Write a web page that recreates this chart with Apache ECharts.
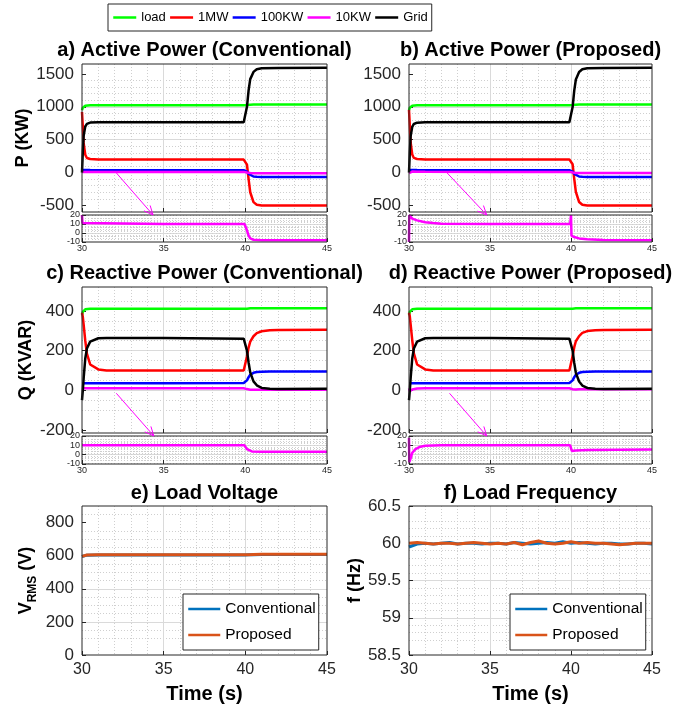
<!DOCTYPE html>
<html><head><meta charset="utf-8">
<script src="https://cdn.jsdelivr.net/npm/echarts@6/dist/echarts.min.js"></script>
<style>html,body{margin:0;padding:0;background:#fff}#c{width:682px;height:718px}</style>
</head><body><div id="c"></div>
<script>
// ---------------- DATA ----------------
const seriesNames = ['load', '1MW', '100KW', '10KW', 'Grid'];
const tP = [30, 30.05, 30.1, 30.2, 30.3, 30.5, 31, 35, 39.9, 40, 40.1, 40.2, 40.3, 40.5, 40.7, 41, 42, 45];
// a) Active power, conventional
const pConvLoad  = [950, 985, 1005, 1015, 1020, 1022, 1022, 1022, 1022, 1022, 1025, 1030, 1032, 1033, 1033, 1033, 1033, 1033];
const pConv1MW   = [920, 700, 450, 270, 220, 205, 200, 198, 197, 195, 120, -100, -300, -450, -490, -500, -500, -500];
const pConv100KW = [40, 40, 40, 40, 40, 38, 36, 35, 35, 33, 15, -20, -45, -60, -65, -67, -67, -67];
const pConv10KW  = [10, 10, 10, 10, 10, 10, 10, 10, 10, 8, 0, -6, -8, -9, -10, -10, -10, -10];
const pConvGrid  = [0, 320, 560, 700, 740, 760, 765, 765, 765, 770, 1000, 1250, 1420, 1530, 1570, 1585, 1590, 1592];
// b) Active power, proposed
const pPropLoad  = [950, 985, 1005, 1015, 1020, 1022, 1022, 1022, 1022, 1022, 1025, 1030, 1032, 1033, 1033, 1033, 1033, 1033];
const pProp1MW   = [950, 720, 460, 275, 222, 206, 200, 198, 197, 195, 125, -95, -295, -448, -490, -500, -500, -500];
const pProp100KW = [40, 40, 40, 40, 40, 38, 36, 35, 35, 33, 15, -20, -45, -60, -65, -67, -67, -67];
const pProp10KW  = [-10, 15, 15, 14, 13, 12, 11, 10, 10, 12, 0, -5, -6, -7, -8, -8, -8, -8];
const pPropGrid  = [0, 310, 550, 695, 738, 758, 765, 765, 765, 770, 995, 1245, 1415, 1528, 1570, 1585, 1590, 1592];
// insets of a) / b) (10KW zoom)
const tInA = [30, 30.03, 30.1, 35, 39.95, 40, 40.1, 40.2, 40.3, 40.5, 41, 45];
const inA10KW = [20, 11, 10, 10, 10, 9, 3, -3, -6, -7.5, -8, -8];
const tInB = [30, 30.02, 30.05, 30.2, 30.5, 31, 31.5, 32, 35, 39.95, 40, 40.03, 40.2, 40.5, 41, 42, 45];
const inB10KW = [-10, 20, 18, 16, 14, 12, 11, 10.2, 10, 10, 20, -3, -4.5, -6, -7, -7.8, -8];

const tQ = [30, 30.05, 30.1, 30.2, 30.3, 30.5, 31, 31.5, 35, 39.9, 40, 40.1, 40.2, 40.3, 40.5, 40.7, 41, 41.5, 42, 45];
// c) Reactive power, conventional
const qConvLoad  = [380, 395, 403, 408, 410, 410, 410, 410, 410, 410, 410, 411, 412, 413, 413, 413, 413, 413, 413, 413];
const qConv1MW   = [390, 370, 330, 250, 185, 130, 105, 100, 100, 100, 105, 170, 215, 245, 272, 288, 297, 302, 304, 305];
const qConv100KW = [35, 35, 35, 35, 35, 35, 35, 35, 36, 37, 38, 50, 66, 78, 88, 92, 93, 94, 94, 94];
const qConv10KW  = [10, 10, 10, 10, 10, 10, 10, 10, 10, 10, 9, 6, 4, 3, 3, 3, 3, 3, 3, 3];
const qConvGrid  = [-50, 0, 60, 160, 210, 245, 262, 263, 263, 260, 258, 200, 140, 90, 45, 25, 12, 8, 7, 8];
// d) Reactive power, proposed
const qPropLoad  = [380, 395, 403, 408, 410, 410, 410, 410, 410, 410, 410, 411, 412, 413, 413, 413, 413, 413, 413, 413];
const qProp1MW   = [390, 372, 332, 252, 186, 130, 105, 100, 100, 100, 105, 172, 217, 247, 273, 289, 298, 302, 304, 305];
const qProp100KW = [35, 35, 35, 35, 35, 35, 35, 35, 36, 37, 38, 50, 66, 78, 88, 92, 93, 94, 94, 94];
const qProp10KW  = [10, -5, 0, 4, 7, 9, 10, 10, 10, 10, 9, 5, 4, 4, 5, 5, 5, 5, 5, 5];
const qPropGrid  = [-50, 0, 60, 160, 210, 245, 262, 263, 263, 260, 258, 200, 138, 88, 44, 24, 12, 8, 7, 8];
// insets of c) / d)
const tInC = [30, 39.95, 40, 40.1, 40.2, 40.4, 41, 45];
const inC10KW = [10, 10, 9, 6, 4, 3.5, 3, 3];
const tInD = [30, 30.02, 30.1, 30.2, 30.4, 30.7, 31, 32, 39.95, 40, 40.05, 40.3, 41, 45];
const inD10KW = [18, -8, -4, 2, 6, 8.5, 9.5, 10, 10, 9, 4, 4.5, 5, 5.5];

// e) Load voltage
const tV = [30, 30.1, 30.3, 31, 35, 40, 40.2, 40.5, 41, 45];
const vConv = [595, 600, 603, 604, 604, 604, 605, 606, 607, 607];
const vProp = [596, 601, 604, 605, 605, 605, 606, 607, 608, 608];
// f) Load frequency
const tF = [30, 30.5, 31, 31.5, 32, 32.5, 33, 33.5, 34, 34.5, 35, 35.5, 36, 36.5, 37, 37.5, 38, 38.5, 39, 39.5, 40, 40.5, 41, 41.5, 42, 42.5, 43, 43.5, 44, 44.5, 45];
const fConv = [59.95, 59.99, 60.0, 59.99, 60.0, 60.01, 59.99, 60.0, 60.0, 59.99, 60.0, 60.0, 59.99, 60.01, 60.0, 59.99, 60.0, 60.01, 60.0, 60.02, 60.0, 60.01, 60.0, 59.99, 60.0, 60.0, 59.99, 59.99, 60.0, 60.0, 59.99];
const fProp = [60.0, 60.01, 60.0, 59.99, 60.0, 60.0, 59.99, 60.0, 60.01, 60.0, 59.99, 60.0, 59.99, 60.01, 59.98, 60.01, 60.03, 60.0, 59.99, 60.0, 60.02, 60.0, 60.01, 60.0, 60.0, 59.99, 59.98, 59.99, 60.0, 60.0, 60.0];

// tick labels
const xTicks = [30, 35, 40, 45];
const pTicks = [-500, 0, 500, 1000, 1500];
const qTicks = [-200, 0, 200, 400];
const inTicks = [-10, 0, 10, 20];
const vTicks = [0, 200, 400, 600, 800];
const fTicks = [58.5, 59, 59.5, 60, 60.5];

// annotation arrows (data coords): from main panel to inset
const arrowFrom = [[32.1, -5], [32.35, -5], [32.1, -15], [32.5, -15]];
const arrowTo   = [[34.35, 20], [34.8, 20], [34.4, 20], [34.8, 20]];

// ---------------- CHART ----------------
const FONT = '"Liberation Sans", Arial, Helvetica, sans-serif';
const colors = {load:'#00ff00', '1MW':'#ff0000', '100KW':'#0000ff', '10KW':'#ff00ff', Grid:'#000000'};
const grids = [
  {left:82, top:64, width:245, height:148},
  {left:82, top:215, width:245, height:27},
  {left:409, top:64, width:243, height:148},
  {left:409, top:215, width:243, height:27},
  {left:82, top:287, width:245, height:146},
  {left:82, top:436, width:245, height:28},
  {left:409, top:287, width:243, height:146},
  {left:409, top:436, width:243, height:28},
  {left:82, top:506, width:245, height:149},
  {left:409, top:506, width:243, height:149}
].map(g => Object.assign({show:true, borderColor:'#262626', borderWidth:1, backgroundColor:'transparent', z:10}, g));

function minorList(min, max, step, majors) {
  const out = [];
  const start = Math.ceil(min / step - 1e-9) * step;
  for (let v = start; v <= max + 1e-9; v += step) {
    const r = Math.round(v * 1000) / 1000;
    if (majors.indexOf(r) < 0) out.push(r);
  }
  return out;
}
const GRIDC = '#dadada', MINC = '#cfcfcf';
const fmt = v => String(Math.round(v * 1000) / 1000);
function xAx(gi, kind) {
  const o = {type:'value', gridIndex:gi, min:30, max:45, interval:5,
    axisLine:{show:false, onZero:false},
    axisTick:{show:true, inside:true, length:4, lineStyle:{color:'#262626'}},
    axisLabel:{show:kind !== 'main', color:'#262626', fontFamily:FONT, formatter:fmt,
      fontSize: kind === 'bottom' ? 16 : 9, margin: kind === 'bottom' ? 7 : 2},
    splitLine:{show:true, showMinLine:false, showMaxLine:false, lineStyle:{color:GRIDC, width:1}},
    minorTick:{show:false, splitNumber: kind === 'inset' ? 25 : 5},
    minorSplitLine:{show:true, lineStyle:{color:MINC, width:1, type:[1,2]}}
  };
  if (kind === 'bottom') {
    o.name = 'Time (s)'; o.nameLocation = 'middle'; o.nameGap = 29;
    o.nameTextStyle = {fontSize:20, fontWeight:'bold', color:'#000', fontFamily:FONT};
  }
  return o;
}
function yAx(gi, min, max, majors, fs, margin, extra) {
  return Object.assign({type:'value', gridIndex:gi, min:min, max:max, position:'left',
    axisLine:{show:false, onZero:false},
    axisTick:{show:true, inside:true, length:4, customValues:majors, lineStyle:{color:'#262626'}},
    axisLabel:{customValues:majors, color:'#262626', fontFamily:FONT, fontSize:fs, margin:margin, formatter:fmt},
    splitLine:{show:true, showMinLine:false, showMaxLine:false, lineStyle:{color:GRIDC, width:1}}
  }, extra || {});
}
function yMinor(gi, min, max, minors) {
  return {type:'value', gridIndex:gi, min:min, max:max, position:'left',
    axisLine:{show:false, onZero:false},
    axisTick:{show:false, customValues:minors},
    axisLabel:{show:false},
    splitLine:{show:true, showMinLine:false, showMaxLine:false, lineStyle:{color:MINC, width:1, type:[1,2]}}
  };
}
const nameStyle = {fontSize:18, fontWeight:'bold', color:'#000', fontFamily:FONT};
const yDefs = [
  [-600, 1650, pTicks, 100, 17, 8, {name:'P (KW)', nameLocation:'middle', nameGap:47, nameRotate:90, nameTextStyle:nameStyle}],
  [-10, 20, inTicks, 2, 9, 2],
  [-600, 1650, pTicks, 100, 17, 8],
  [-10, 20, inTicks, 2, 9, 2],
  [-215, 520, qTicks, 50, 17, 8, {name:'Q (KVAR)', nameLocation:'middle', nameGap:47, nameRotate:90, nameTextStyle:nameStyle}],
  [-10, 20, inTicks, 2, 9, 2],
  [-215, 520, qTicks, 50, 17, 8],
  [-10, 20, inTicks, 2, 9, 2],
  [0, 900, vTicks, 50, 17, 8, {name:'{v|V}{s|RMS}{v| (V)}', nameLocation:'middle', nameGap:45, nameRotate:90,
     nameTextStyle:{color:'#000', fontFamily:FONT, rich:{
       v:{fontSize:18, fontWeight:'bold', fontFamily:FONT, color:'#000', lineHeight:20, verticalAlign:'top'},
       s:{fontSize:12, fontWeight:'bold', fontFamily:FONT, color:'#000', lineHeight:12, padding:[10,0,0,0], verticalAlign:'top'}}}}],
  [58.5, 60.5, fTicks, 0.1, 17, 8, {name:'f (Hz)', nameLocation:'middle', nameGap:23, nameRotate:90, nameTextStyle:nameStyle}]
];
const yAxes = [], yAxes2 = [];
yDefs.forEach((d, i) => {
  yAxes.push(yAx(i, d[0], d[1], d[2], d[4], d[5], d[6]));
  yAxes2.push(yMinor(i, d[0], d[1], minorList(d[0], d[1], d[3], d[2])));
});
const xKinds = ['main','inset','main','inset','main','inset','main','inset','bottom','bottom'];
const xAxes = xKinds.map((k, i) => xAx(i, k));

function pairs(t, v) { return t.map((x, i) => [x, v[i]]); }
function line(name, gi, t, v, color, w) {
  return {type:'line', name:name, xAxisIndex:gi, yAxisIndex:gi, data:pairs(t, v), symbol:'none',
    showSymbol:false, lineStyle:{color:color, width:w}, itemStyle:{color:color}, z:3, silent:true};
}
const series = [];
const pConv = [pConvLoad, pConv1MW, pConv100KW, pConv10KW, pConvGrid];
const pProp = [pPropLoad, pProp1MW, pProp100KW, pProp10KW, pPropGrid];
const qConv = [qConvLoad, qConv1MW, qConv100KW, qConv10KW, qConvGrid];
const qProp = [qPropLoad, qProp1MW, qProp100KW, qProp10KW, qPropGrid];
seriesNames.forEach((n, k) => {
  series.push(line(n, 0, tP, pConv[k], colors[n], 2.5));
  series.push(line(n, 2, tP, pProp[k], colors[n], 2.5));
  series.push(line(n, 4, tQ, qConv[k], colors[n], 2.5));
  series.push(line(n, 6, tQ, qProp[k], colors[n], 2.5));
});
series.push(line('10KW', 1, tInA, inA10KW, colors['10KW'], 2.5));
series.push(line('10KW', 3, tInB, inB10KW, colors['10KW'], 2.5));
series.push(line('10KW', 5, tInC, inC10KW, colors['10KW'], 2.5));
series.push(line('10KW', 7, tInD, inD10KW, colors['10KW'], 2.5));
series.push(line('Conventional', 8, tV, vConv, '#0072BD', 3));
series.push(line('Proposed', 8, tV, vProp, '#D95319', 3));
series.push(line('Conventional', 9, tF, fConv, '#0072BD', 3));
series.push(line('Proposed', 9, tF, fProp, '#D95319', 3));

const legendBase = {backgroundColor:'#fff', borderColor:'#262626', borderWidth:1, borderRadius:0,
  selectedMode:false, z:20, itemStyle:{opacity:0, borderWidth:0}, lineStyle:{width:2.5}};
const legends = [
  Object.assign({}, legendBase, {data:seriesNames, left:108, top:4, orient:'horizontal', itemWidth:23, itemHeight:14,
    itemGap:3, padding:[7,4,7,4], textStyle:{color:'#000', fontFamily:FONT, fontSize:13}}),
  Object.assign({}, legendBase, {data:['Conventional','Proposed'], left:183, top:594, orient:'vertical', itemWidth:32,
    itemHeight:14, itemGap:10, padding:[7,3,7,4], textStyle:{color:'#000', fontFamily:FONT, fontSize:15.5}}),
  Object.assign({}, legendBase, {data:['Conventional','Proposed'], left:510, top:594, orient:'vertical', itemWidth:32,
    itemHeight:14, itemGap:10, padding:[7,3,7,4], textStyle:{color:'#000', fontFamily:FONT, fontSize:15.5}})
];

const titles = [
  ['a) Active Power (Conventional)', 204.5, 50],
  ['b) Active Power (Proposed)', 530.5, 50],
  ['c) Reactive Power (Conventional)', 204.5, 273],
  ['d) Reactive Power (Proposed)', 530.5, 273],
  ['e) Load Voltage', 204.5, 493],
  ['f) Load Frequency', 530.5, 493]
];

const chart = echarts.init(document.getElementById('c'), null, {renderer:'canvas'});
chart.setOption({
  animation:false,
  backgroundColor:'#fff',
  textStyle:{fontFamily:FONT},
  grid:grids,
  xAxis:xAxes,
  yAxis:yAxes.concat(yAxes2),
  legend:legends,
  series:series
});

const graphics = titles.map(t => ({type:'text', x:t[1], y:t[2], z:30,
  style:{text:t[0], fill:'#000', font:'bold 20px ' + FONT, textAlign:'center', textVerticalAlign:'middle'}}));
const mainIdx = [0, 2, 4, 6];
arrowFrom.forEach((f, k) => {
  const g = mainIdx[k];
  const p0 = chart.convertToPixel({xAxisIndex:g, yAxisIndex:g}, f);
  const p1 = chart.convertToPixel({xAxisIndex:g + 1, yAxisIndex:g + 1}, arrowTo[k]);
  const dx = p1[0] - p0[0], dy = p1[1] - p0[1], L = Math.hypot(dx, dy);
  const ux = dx / L, uy = dy / L, hl = 10, a = 0.42;
  const c = Math.cos(a), s = Math.sin(a);
  const h1 = [p1[0] - hl * (ux * c - uy * s), p1[1] - hl * (uy * c + ux * s)];
  const h2 = [p1[0] - hl * (ux * c + uy * s), p1[1] - hl * (uy * c - ux * s)];
  graphics.push({type:'line', z:30, shape:{x1:p0[0], y1:p0[1], x2:p1[0], y2:p1[1]}, style:{stroke:'#ff00ff', lineWidth:1}});
  graphics.push({type:'polyline', z:30, shape:{points:[h1, p1, h2]}, style:{stroke:'#ff00ff', lineWidth:1, fill:null}});
});
chart.setOption({graphic:graphics});
</script></body></html>
